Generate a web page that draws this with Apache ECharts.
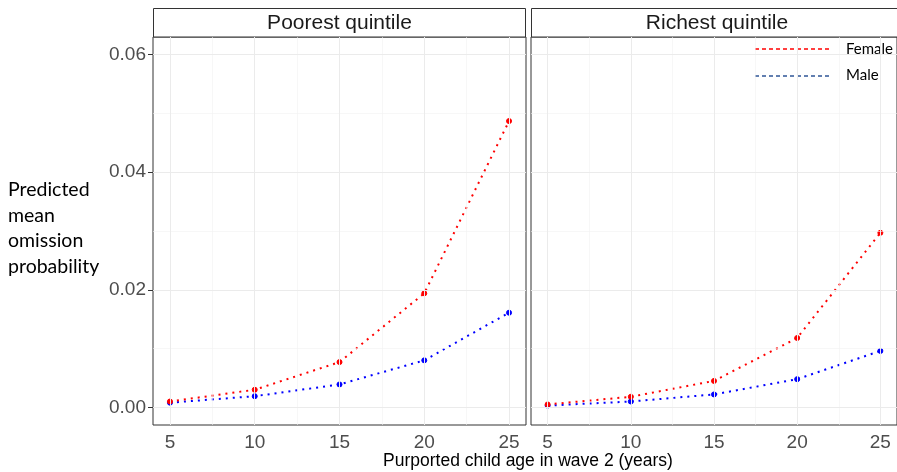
<!DOCTYPE html>
<html>
<head>
<meta charset="utf-8">
<script src="https://cdn.jsdelivr.net/npm/echarts@6/dist/echarts.min.js"></script>
<style>
  html, body { margin: 0; padding: 0; background: #fff; }
  #main { width: 897px; height: 472px; }
</style>
</head>
<body>
<div id="main"></div>
<script>
// ages on the x axis
var ages = [5, 10, 15, 20, 25];

// predicted mean omission probability
var poorFemale = [0.0010, 0.0030, 0.0077, 0.0194, 0.0487];
var poorMale   = [0.0008, 0.0019, 0.0039, 0.0080, 0.0161];
var richFemale = [0.0005, 0.0018, 0.0045, 0.0118, 0.0297];
var richMale   = [0.0003, 0.0010, 0.0022, 0.0048, 0.0096];

var xTicks = [5, 10, 15, 20, 25];
var xMinor = [7.5, 12.5, 17.5, 22.5];
var yTicks = [0, 0.02, 0.04, 0.06];
var yMinor = [0.01, 0.03, 0.05];

var panels = ['Poorest quintile', 'Richest quintile'];

var chart = echarts.init(document.getElementById('main'));

function pairs(ys) {
  return ages.map(function (a, i) { return [a, ys[i]]; });
}

// background grid lines (ggplot style major + minor)
function gridLines(idx) {
  var major = { color: '#ebebeb', width: 1, type: 'solid' };
  var minor = { color: '#f2f2f2', width: 0.6, type: 'solid' };
  var d = [];
  xMinor.forEach(function (v) { d.push({ xAxis: v, lineStyle: minor }); });
  yMinor.forEach(function (v) { d.push({ yAxis: v, lineStyle: minor }); });
  xTicks.forEach(function (v) { d.push({ xAxis: v, lineStyle: major }); });
  yTicks.forEach(function (v) { d.push({ yAxis: v, lineStyle: major }); });
  return {
    type: 'line',
    name: 'grid' + idx,
    xAxisIndex: idx,
    yAxisIndex: idx,
    data: [],
    silent: true,
    z: 0,
    markLine: {
      silent: true,
      symbol: 'none',
      label: { show: false },
      data: d
    }
  };
}

function dotted(name, color, ys, idx) {
  return {
    type: 'line',
    name: name,
    xAxisIndex: idx,
    yAxisIndex: idx,
    data: pairs(ys),
    symbol: 'circle',
    symbolSize: 5,
    z: 3,
    itemStyle: { color: color, borderColor: color, borderWidth: 1, borderType: 'solid', opacity: 1 },
    lineStyle: { color: color, width: 2, type: [2, 5] }
  };
}

function xAxis(idx) {
  return {
    type: 'value',
    gridIndex: idx,
    min: 4,
    max: 26,
    axisLine: { show: false },
    splitLine: { show: false },
    axisTick: { show: true, customValues: xTicks, length: 5, lineStyle: { color: '#333' } },
    axisLabel: {
      customValues: xTicks,
      fontSize: 19,
      color: '#4d4d4d',
      fontFamily: 'Liberation Sans',
      margin: 8
    }
  };
}

function yAxis(idx) {
  return {
    type: 'value',
    gridIndex: idx,
    min: -0.003,
    max: 0.063,
    axisLine: { show: false },
    splitLine: { show: false },
    axisTick: { show: idx === 0, customValues: yTicks, length: 5, lineStyle: { color: '#333' } },
    axisLabel: {
      show: idx === 0,
      customValues: yTicks,
      fontSize: 19,
      color: '#4d4d4d',
      fontFamily: 'Liberation Sans',
      margin: 7,
      formatter: function (v) { return v.toFixed(2); }
    }
  };
}

var option = {
  animation: false,
  backgroundColor: '#fff',
  grid: [
    { left: 153, top: 37, width: 373, height: 388, show: true, borderColor: '#333', borderWidth: 1, backgroundColor: 'transparent' },
    { left: 531, top: 37, width: 372, height: 388, show: true, borderColor: '#333', borderWidth: 1, backgroundColor: 'transparent' }
  ],
  xAxis: [xAxis(0), xAxis(1)],
  yAxis: [yAxis(0), yAxis(1)],
  series: [
    gridLines(0),
    gridLines(1),
    dotted('Male', '#0000ff', poorMale, 0),
    dotted('Female', '#ff0000', poorFemale, 0),
    dotted('Male', '#0000ff', richMale, 1),
    dotted('Female', '#ff0000', richFemale, 1)
  ],
  graphic: [
    // facet strips
    { type: 'rect', shape: { x: 153.5, y: 8.5, width: 372, height: 28.5 }, style: { fill: '#fff', stroke: '#333', lineWidth: 1 } },
    { type: 'rect', shape: { x: 531.5, y: 8.5, width: 372, height: 28.5 }, style: { fill: '#fff', stroke: '#333', lineWidth: 1 } },
    { type: 'text', x: 339.5, y: 23, style: { text: panels[0], fill: '#1a1a1a', font: '21px "Liberation Sans"', textAlign: 'center', textVerticalAlign: 'middle' } },
    { type: 'text', x: 717, y: 23, style: { text: panels[1], fill: '#1a1a1a', font: '21px "Liberation Sans"', textAlign: 'center', textVerticalAlign: 'middle' } },
    // axis titles
    { type: 'text', x: 528, y: 461, style: { text: 'Purported child age in wave 2 (years)', fill: '#000', font: '17.5px "Liberation Sans"', textAlign: 'center', textVerticalAlign: 'middle' } },
    { type: 'text', x: 8, y: 177, style: { text: 'Predicted\nmean\nomission\nprobability', fill: '#000', font: '19.5px Lato', lineHeight: 25.5, textAlign: 'left', textVerticalAlign: 'top' } },
    // legend
    { type: 'line', shape: { x1: 755, y1: 49, x2: 831, y2: 49 }, style: { stroke: '#ff0000', lineWidth: 1.5, lineDash: [4, 3] } },
    { type: 'text', x: 846, y: 49, style: { text: 'Female', fill: '#000', font: '15px Lato', textAlign: 'left', textVerticalAlign: 'middle' } },
    { type: 'line', shape: { x1: 755, y1: 76, x2: 831, y2: 76 }, style: { stroke: '#2f5597', lineWidth: 1.5, lineDash: [4, 3] } },
    { type: 'text', x: 846, y: 75, style: { text: 'Male', fill: '#000', font: '15px Lato', textAlign: 'left', textVerticalAlign: 'middle' } }
  ]
};

chart.setOption(option);
</script>
</body>
</html>
